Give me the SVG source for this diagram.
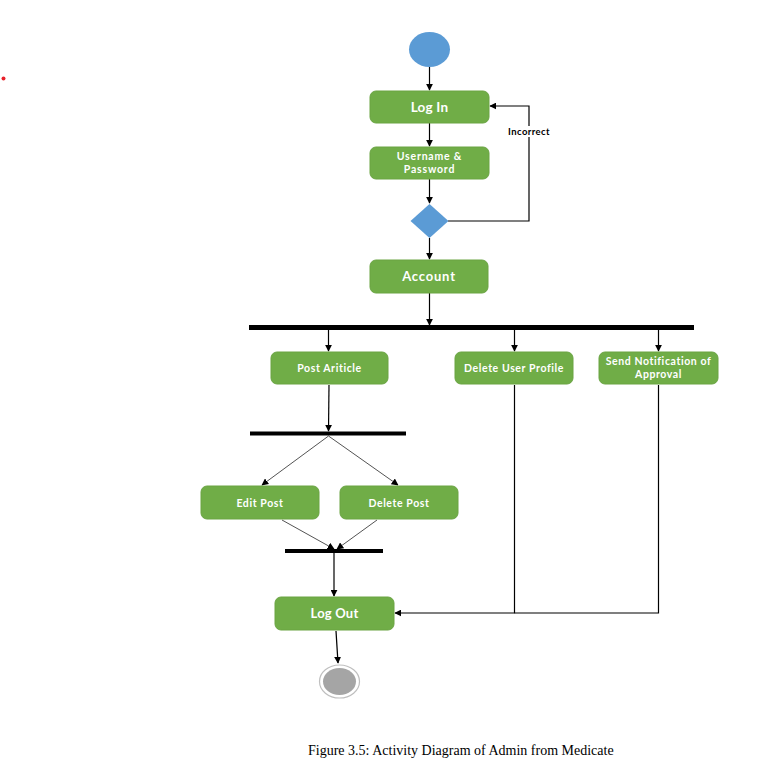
<svg xmlns="http://www.w3.org/2000/svg" width="764" height="771" viewBox="0 0 764 771">
  <style>
    .act { fill: #70ad47; stroke: #6aa443; stroke-width: 1; }
    .lbl { font-family: Lato, "Open Sans", "Liberation Sans", sans-serif; font-weight: bold; fill: #ffffff; text-anchor: middle; font-size: 10.5px; letter-spacing: 0.6px; }
    .bar { fill: #000000; }
    .edge { fill: none; stroke: #000000; stroke-width: 1.2; }
    .thin { fill: none; stroke: #404040; stroke-width: 0.9; }
    .note { font-family: Lato, "Open Sans", "Liberation Sans", sans-serif; font-weight: bold; font-size: 9.5px; letter-spacing: 0.4px; fill: #000000; text-anchor: middle; }
    .caption { font-family: "Liberation Serif", "Times New Roman", serif; font-size: 14px; fill: #000000; }
  </style>
  <defs>
    <marker id="arrow" viewBox="0 0 10 10" refX="9" refY="5" markerWidth="7" markerHeight="7" markerUnits="userSpaceOnUse" orient="auto">
      <path d="M0,0 L10,5 L0,10 z" fill="#000000"/>
    </marker>
  </defs>
  <rect width="764" height="771" fill="#ffffff"/>

  <!-- stray mark at left margin -->
  <circle cx="3.5" cy="78.5" r="2" fill="#e8202a"/>

  <!-- connectors -->
  <g id="connectors">
    <path class="edge" d="M429.5,67 L429.5,90" marker-end="url(#arrow)"/>
    <path class="edge" d="M429.5,123 L429.5,146" marker-end="url(#arrow)"/>
    <path class="edge" d="M429.5,179 L429.5,203" marker-end="url(#arrow)"/>
    <path class="edge" d="M448,221 L529,221 L529,106 L490,106" marker-end="url(#arrow)"/>
    <path class="edge" d="M429.5,238 L429.5,259" marker-end="url(#arrow)"/>
    <path class="edge" d="M429.5,293 L429.5,325" marker-end="url(#arrow)"/>
    <path class="edge" d="M328.5,330 L328.5,351" marker-end="url(#arrow)"/>
    <path class="edge" d="M514.5,330 L514.5,351" marker-end="url(#arrow)"/>
    <path class="edge" d="M658.5,330 L658.5,351" marker-end="url(#arrow)"/>
    <path class="edge" d="M329,385 L328.5,431" marker-end="url(#arrow)"/>
    <path class="thin" d="M328.5,436 L262,485" marker-end="url(#arrow)"/>
    <path class="thin" d="M328.5,436 L398,485" marker-end="url(#arrow)"/>
    <path class="thin" d="M282,520 L334,549" marker-end="url(#arrow)"/>
    <path class="thin" d="M377,520 L337,549" marker-end="url(#arrow)"/>
    <path class="edge" d="M334,553 L334,596" marker-end="url(#arrow)"/>
    <path class="edge" d="M514.5,385 L514.5,613 L395,613" marker-end="url(#arrow)"/>
    <path class="edge" d="M658.5,385 L658.5,613 L514.5,613"/>
    <path class="edge" d="M336,631 L338,663" marker-end="url(#arrow)"/>
    <rect x="506" y="126" width="46" height="11" fill="#ffffff"/>
    <text class="note" x="529" y="134.5">Incorrect</text>
  </g>

  <!-- initial node -->
  <g id="start">
    <ellipse cx="429.5" cy="49.5" rx="20.5" ry="17.5" fill="#5b9bd5"/>
  </g>

  <g id="login">
    <rect class="act" x="370" y="91" width="119" height="32" rx="6"/>
    <text class="lbl" x="429.5" y="111.5" style="font-size:13.5px;letter-spacing:0.2px">Log In</text>
  </g>

  <g id="credentials">
    <rect class="act" x="370" y="147" width="119" height="32" rx="6"/>
    <text class="lbl" x="429.5" y="160" style="letter-spacing:0.8px">Username &amp;</text>
    <text class="lbl" x="429.5" y="173" style="letter-spacing:0.8px">Password</text>
  </g>

  <g id="check">
    <path d="M429.5,204 L448.5,221 L429.5,238 L410.5,221 z" fill="#5b9bd5"/>
  </g>

  <g id="account">
    <rect class="act" x="370" y="260" width="118" height="33" rx="6"/>
    <text class="lbl" x="429" y="281" style="font-size:13px;letter-spacing:0.8px">Account</text>
  </g>

  <g id="fork">
    <rect class="bar" x="249" y="325" width="445" height="5"/>
  </g>

  <g id="post-article">
    <rect class="act" x="271" y="352" width="117" height="32" rx="6"/>
    <text class="lbl" x="329.5" y="372">Post Ariticle</text>
  </g>

  <g id="delete-user">
    <rect class="act" x="455" y="352" width="118" height="32" rx="6"/>
    <text class="lbl" x="514" y="372">Delete User Profile</text>
  </g>

  <g id="send-notification">
    <rect class="act" x="599" y="352" width="119" height="32" rx="6"/>
    <text class="lbl" x="658.5" y="364.5">Send Notification of</text>
    <text class="lbl" x="658.5" y="377.5">Approval</text>
  </g>

  <g id="fork-post">
    <rect class="bar" x="250" y="431.5" width="156" height="4"/>
  </g>

  <g id="edit-post">
    <rect class="act" x="201" y="486" width="118" height="33" rx="6"/>
    <text class="lbl" x="260" y="506.5">Edit Post</text>
  </g>

  <g id="delete-post">
    <rect class="act" x="340" y="486" width="118" height="33" rx="6"/>
    <text class="lbl" x="399" y="506.5">Delete Post</text>
  </g>

  <g id="join-post">
    <rect class="bar" x="285" y="549" width="98" height="4"/>
  </g>

  <g id="logout">
    <rect class="act" x="275" y="597" width="119" height="33" rx="6"/>
    <text class="lbl" x="334.5" y="617.5" style="font-size:13px;letter-spacing:0.2px">Log Out</text>
  </g>

  <!-- final node -->
  <g id="end">
    <ellipse cx="339.5" cy="681.5" rx="20" ry="16.5" fill="#ffffff" stroke="#bfbfbf" stroke-width="1.2"/>
    <ellipse cx="339.5" cy="681.5" rx="16.5" ry="13.5" fill="#a5a5a5"/>
  </g>

  <text class="caption" x="308" y="755">Figure 3.5: Activity Diagram of Admin from Medicate</text>
</svg>
